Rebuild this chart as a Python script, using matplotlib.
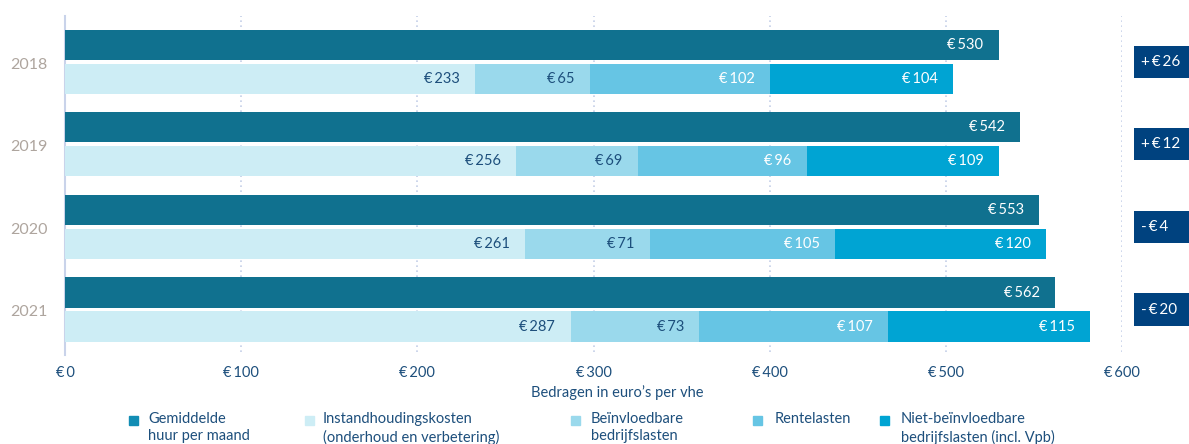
import matplotlib
matplotlib.use("Agg")
import matplotlib.pyplot as plt
from matplotlib.patches import Rectangle
from matplotlib.transforms import blended_transform_factory

plt.rcParams["font.family"] = ["Lato", "DejaVu Sans"]

# ---- data ----
years = ["2018", "2019", "2020", "2021"]
huur = [530, 542, 553, 562]
instand = [233, 256, 261, 287]
beinvl = [65, 69, 71, 73]
rente = [102, 96, 105, 107]
niet_beinvl = [104, 109, 120, 115]
verschil = [26, 12, -4, -20]
xticks = [0, 100, 200, 300, 400, 500, 600]

legend_labels = ["Gemiddelde\nhuur per maand",
                 "Instandhoudingskosten\n(onderhoud en verbetering)",
                 "Beïnvloedbare\nbedrijfslasten",
                 "Rentelasten",
                 "Niet-beïnvloedbare\nbedrijfslasten (incl. Vpb)"]

C_HUUR = "#10718f"
C_SEG = ["#cdedf5", "#9ad9ec", "#66c5e4", "#00a4d3"]
C_LEG = ["#128db4"] + C_SEG
NAVY = "#1d4f7c"
BOX = "#00427f"
GRID = "#c5cfe8"
TS = "\u2009"   # thin space after the euro sign

fig = plt.figure(figsize=(11.89, 4.44), dpi=100)
ax = fig.add_axes([65 / 1189, 92 / 444, 1057 / 1189, 336 / 444])

h, off = 0.364, 0.206
for i in range(len(years)):
    yd, yl = i - off, i + off
    ax.barh(yd, huur[i], height=h, color=C_HUUR, lw=0, zorder=2)
    ax.annotate(f"€{TS}{huur[i]}", (huur[i], yd), xytext=(-11, 0),
                textcoords="offset points", ha="right", va="center",
                color="white", fontsize=10.5, zorder=3)
    left = 0
    for j, seg in enumerate([instand, beinvl, rente, niet_beinvl]):
        v = seg[i]
        ax.barh(yl, v, left=left, height=h, color=C_SEG[j], lw=0, zorder=2)
        ax.annotate(f"€{TS}{v}", (left + v, yl), xytext=(-11, 0),
                    textcoords="offset points", ha="right", va="center",
                    color=NAVY if j < 2 else "white", fontsize=10.5, zorder=3)
        left += v
    ax.annotate(years[i], (0, i), xytext=(-12.5, -2), textcoords="offset points",
                ha="right", va="center", color="#aea59e", fontsize=11.5,
                annotation_clip=False)

# difference boxes on the right
tr = blended_transform_factory(fig.transFigure, ax.transData)
for i, d in enumerate(verschil):
    bh = 0.388
    ax.add_patch(Rectangle((1134 / 1189, i - bh / 2), 60 / 1189, bh,
                           transform=tr, facecolor=BOX, lw=0, clip_on=False, zorder=3))
    sign = "+" if d >= 0 else "-"
    ax.text(1141 / 1189, i, f"{sign}{TS}€{TS}{abs(d)}", transform=tr,
            ha="left", va="center", color="white", fontsize=11, zorder=4)

ax.set_xlim(0, 600)
ax.set_ylim(3.515, -0.557)
for s in ax.spines.values():
    s.set_visible(False)
ax.axvline(0, color="#c9d3ea", lw=1.5, zorder=1, ymin=-0.01, clip_on=False)
for x in xticks[1:]:
    ax.axvline(x, color=GRID, lw=1.2, ls=(0, (1, 2)), zorder=1)
ax.set_yticks([])
ax.set_xticks(xticks)
ax.set_xticklabels([f"€{TS}{x}" for x in xticks], color=NAVY, fontsize=10.5)
ax.tick_params(axis="x", length=0, pad=10)

fig.text(617 / 1189, 1 - 393 / 444, "Bedragen in euro’s per vhe",
         ha="center", va="center", color=NAVY, fontsize=10.5)

# legend
sq_x = [129, 305, 571, 753, 880]
tx_x = [148, 323, 591, 775, 901]
for c, sx, tx, lab in zip(C_LEG, sq_x, tx_x, legend_labels):
    fig.patches.append(Rectangle((sx / 1189, 1 - 425 / 444), 9 / 1189, 9 / 444,
                                 transform=fig.transFigure, color=c))
    fig.text(tx / 1189, 1 - 412 / 444, lab, ha="left", va="top",
             color=NAVY, fontsize=10.5, linespacing=1.3)

fig.savefig("out.png", dpi=100)
